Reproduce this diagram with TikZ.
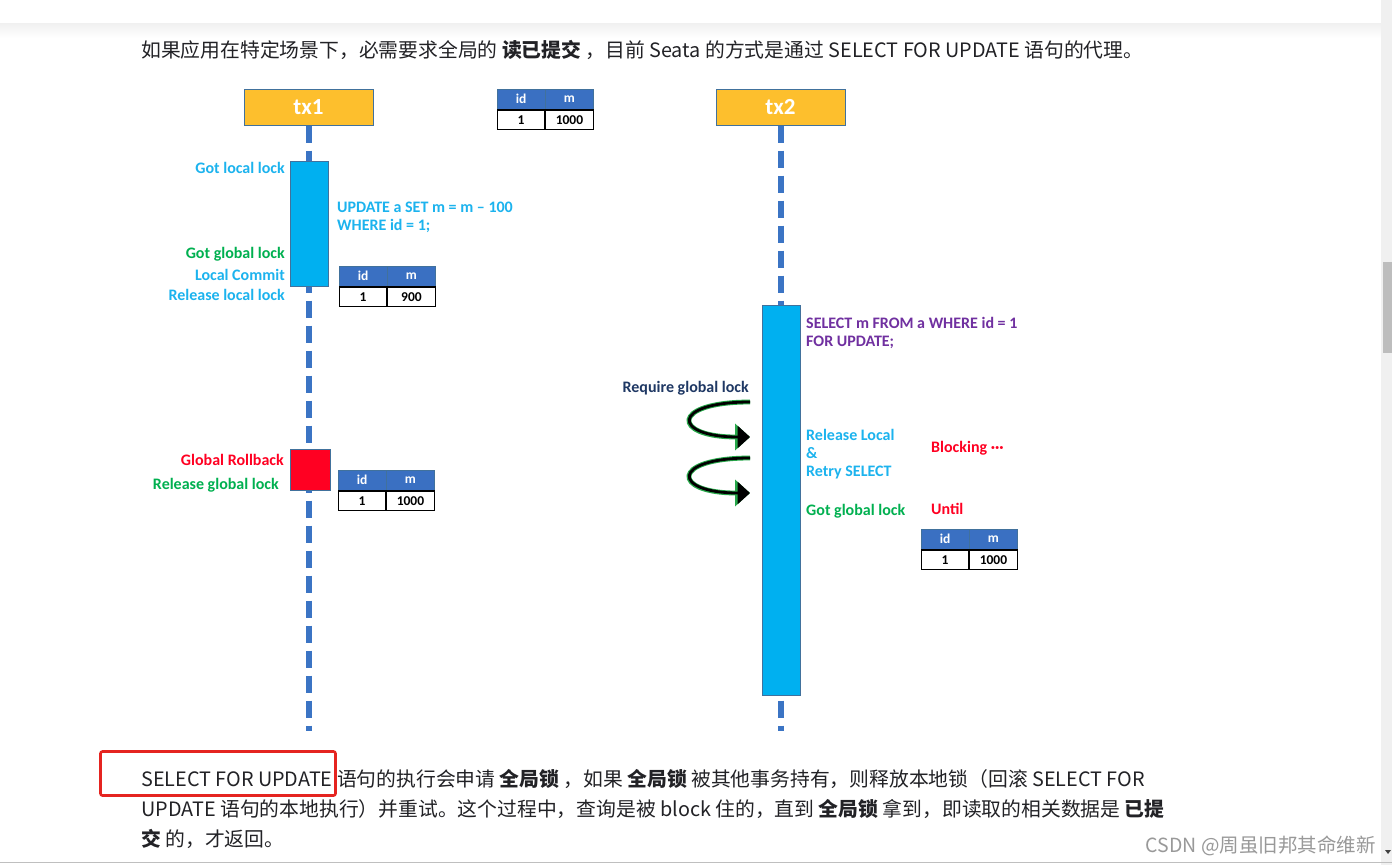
\documentclass[tikz,border=0pt]{standalone}
\usepackage{fontspec}
\setmainfont{Noto Sans CJK SC}
\newfontfamily\cali{Carlito}
\usetikzlibrary{arrows.meta}
\definecolor{txfill}{HTML}{FDBF2D}
\definecolor{txedge}{HTML}{41719C}
\definecolor{lifec}{HTML}{3B74C4}
\definecolor{blockc}{HTML}{00B0F0}
\definecolor{hdrc}{HTML}{3A70C2}
\definecolor{cyantx}{HTML}{1CB3EE}
\definecolor{greentx}{HTML}{00B050}
\definecolor{redtx}{HTML}{FF0022}
\definecolor{purpletx}{HTML}{7030A0}
\definecolor{navytx}{HTML}{1F3864}
\definecolor{bodytx}{HTML}{222226}
\definecolor{glowc}{HTML}{27A84A}
\definecolor{markred}{HTML}{E52420}
\tikzset{
  txbox/.style={minimum width=129pt, minimum height=36pt, inner sep=0pt, fill=txfill, draw=txedge, line width=1pt, text=white, font=\cali\bfseries\fontsize{23}{23}\selectfont},
  life/.style={draw=lifec, line width=6pt, dash pattern=on 17pt off 8pt},
  actbox/.style={fill=blockc, draw=txedge, line width=1pt, inner sep=0pt},
  rbbox/.style={fill=redtx, draw=txedge, line width=1pt, inner sep=0pt},
  lab/.style={inner sep=0pt, font=\cali\bfseries\fontsize{16}{18}\selectfont, align=left},
  hdr/.style={minimum width=47.5pt, minimum height=19.5pt, inner sep=0pt, fill=hdrc, draw=txedge, line width=0.8pt, text=white, font=\cali\bfseries\fontsize{13.5}{13.5}\selectfont},
  cell/.style={minimum width=47.5pt, minimum height=19.5pt, inner sep=0pt, fill=white, draw=black, line width=1.3pt, font=\cali\bfseries\fontsize{13.5}{13.5}\selectfont},
  glowline/.style={draw=glowc, line width=4.8pt, -{Triangle[length=15pt,width=26pt]}},
  blackline/.style={draw=black, line width=2.8pt, -{Triangle[length=12.5pt,width=22pt]}},
  body/.style={inner sep=0pt, text=bodytx, font=\fontsize{19.8}{19.8}\selectfont},
}
\newcommand\datatable[4]{%
  \node[hdr, anchor=north west] (#1h1) at (#2,#3) {id};
  \node[hdr, anchor=west] (#1h2) at (#1h1.east) {m};
  \node[cell, anchor=north] (#1c1) at (#1h1.south) {1};
  \node[cell, anchor=north] (#1c2) at (#1h2.south) {#4};
}
\begin{document}
\begin{tikzpicture}[x=1pt,y=-1pt]
\useasboundingbox (0,0) rectangle (1392,865);
\fill[white] (0,0) rectangle (1392,865);
% top shadow
\shade[top color=black!6, bottom color=white] (0,23) rectangle (1381,38);
% scrollbar
\fill[black!6] (1381,0) rectangle (1392,865);
\fill[black!26] (1383,262) rectangle (1392,353);
\fill[black!75] (1385,850) -- (1391,850) -- (1388,854) -- cycle;
\fill[black!25] (0,861.5) rectangle (1392,863);

% top text
\node[body, anchor=base west] (toptext) at (141,57) {如果应用在特定场景下，必需要求全局的 \textbf{读已提交} ，目前 Seata 的方式是通过 SELECT FOR UPDATE 语句的代理。};

% participants
\node[txbox] (tx1) at (308.5,107) {tx1};
\node[txbox] (tx2) at (780.5,107) {tx2};
\coordinate (end1) at (308.5,731);
\coordinate (end2) at (780.5,731);
\draw[life] (tx1.south) -- (end1);
\draw[life] (tx2.south) -- (end2);

\datatable{t0}{497}{89}{1000}

% tx1 activity
\node[actbox, minimum width=38pt, minimum height=125pt] (act1) at (309,223.5) {};
\node[lab, text=cyantx, anchor=base east] (gotlocal) at (285,173) {Got local lock};
\node[lab, text=greentx, anchor=base east] (gotglobal1) at (285,258) {Got global lock};
\node[lab, text=cyantx, anchor=base east] (lcommit) at (285,280) {Local Commit};
\node[lab, text=cyantx, anchor=base east] (rellocal) at (285,300) {Release local lock};
\node[lab, text=cyantx, anchor=base west] (upd) at (337,230) {UPDATE a SET m = m – 100\\WHERE id = 1;};
\datatable{t1}{339}{266}{900}

\node[rbbox, minimum width=40pt, minimum height=41pt] (rb) at (310,469.5) {};
\node[lab, text=redtx, anchor=base east] (grb) at (284,465) {Global Rollback};
\node[lab, text=greentx, anchor=base east] (relglobal) at (279,489) {Release global lock};
\datatable{t2}{338}{470}{1000}

% tx2 activity
\node[actbox, minimum width=38pt, minimum height=390pt] (act2) at (781,500) {};
\node[lab, text=purpletx, anchor=base west] (sel) at (806,346) {SELECT m FROM a WHERE id = 1\\FOR UPDATE;};
\node[lab, text=navytx, anchor=base east] (req) at (749,392) {Require global lock};
\node[lab, text=cyantx, anchor=base west] (retry) at (806,476) {Release Local\\\&\\Retry SELECT};
\node[lab, text=redtx, anchor=base west] (blocking) at (931,452) {Blocking ···};
\node[lab, text=greentx, anchor=base west] (gotglobal2) at (806,515) {Got global lock};
\node[lab, text=redtx, anchor=base west] (until) at (931,514) {Until};
\datatable{t3}{921}{529}{1000}

% retry arrows
\coordinate (a1s) at (750,402);
\coordinate (a1e) at (750,437);
\coordinate (a2s) at (750,458);
\coordinate (a2e) at (750,493);
\draw[glowline] (a1s) .. controls (670,402) and (672,437) .. (a1e);
\draw[blackline] (a1s) .. controls (670,402) and (672,437) .. (a1e);
\draw[glowline] (a2s) .. controls (670,458) and (672,493) .. (a2e);
\draw[blackline] (a2s) .. controls (670,458) and (672,493) .. (a2e);

% bottom text
\node[body, anchor=base west] (line1) at (141,786) {SELECT FOR UPDATE 语句的执行会申请 \textbf{全局锁} ，如果 \textbf{全局锁} 被其他事务持有，则释放本地锁（回滚 SELECT FOR};
\node[body, anchor=base west] (line2) at (141,816) {UPDATE 语句的本地执行）并重试。这个过程中，查询是被 block 住的，直到 \textbf{全局锁} 拿到，即读取的相关数据是 \textbf{已提}};
\node[body, anchor=base west] (line3) at (141,846) {\textbf{交} 的，才返回。};
\node[draw=markred, line width=2.6pt, rounded corners=2pt, minimum width=235pt, minimum height=44pt, inner sep=0pt] (mark) at (218,773.5) {};
\node[inner sep=0pt, anchor=base east, text=black!40, font=\fontsize{19.5}{19.5}\selectfont] (wm) at (1376,852) {CSDN @周虽旧邦其命维新};
\end{tikzpicture}
\end{document}
